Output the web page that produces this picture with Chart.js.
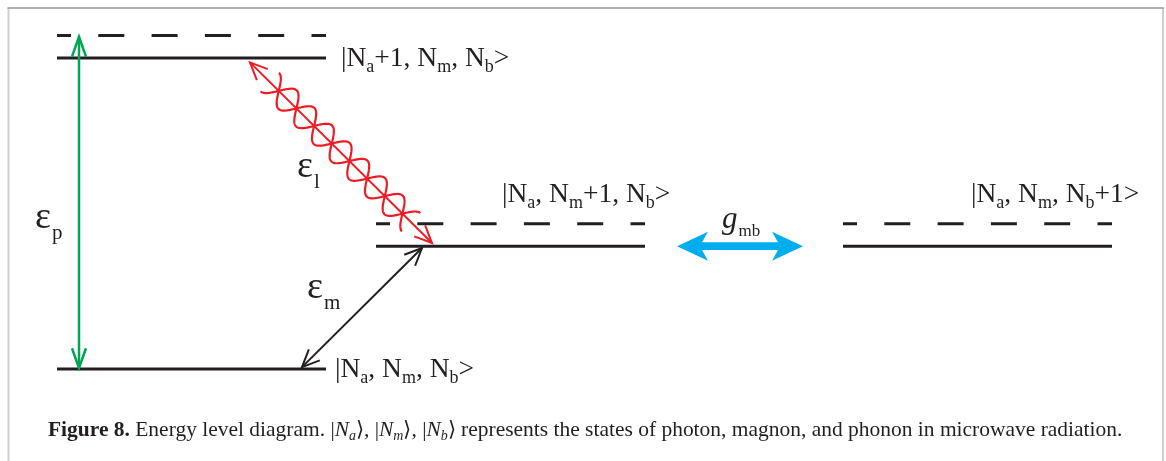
<!DOCTYPE html>
<html>
<head>
<meta charset="utf-8">
<script src="https://cdn.jsdelivr.net/npm/chart.js@4/dist/chart.umd.min.js"></script>
<style>
  html, body { margin: 0; padding: 0; background: #fff; }
  canvas { display: block; }
</style>
</head>
<body>
<canvas id="diagram" width="1166" height="461"></canvas>
<script>
// ---- Energy levels: |Na,Nm,Nb>, |Na+1,...>, |Na,Nm+1,...>, |Na,Nm,Nb+1> ----
const levelNames   = ['ground', 'photon', 'magnon', 'phonon'];
const levelEnergy  = [0, 10, 3.95, 3.95];
const levelXStart  = [57, 57, 376, 843];
const levelXEnd    = [326, 326, 645, 1112];
const levelVirtual = [false, true, true, true];   // dashed sub-level above the state
const virtualGap   = 0.72;

// ---- Transitions (x, energy) ----
const transitionNames = ['pump', 'laser', 'magnon', 'coupling'];
const transitionFrom  = [[79, 0.03], [250, 9.86], [302, 0.06], [677, 3.95]];
const transitionTo    = [[79, 10.68], [432, 4.05], [422, 3.89], [803, 3.95]];

// ---- Text ----
const stateLabels = [
  [['|N', 'r'], ['a', 's'], [', N', 'r'], ['m', 's'], [', N', 'r'], ['b', 's'], ['>', 'r']],
  [['|N', 'r'], ['a', 's'], ['+1, N', 'r'], ['m', 's'], [', N', 'r'], ['b', 's'], ['>', 'r']],
  [['|N', 'r'], ['a', 's'], [', N', 'r'], ['m', 's'], ['+1, N', 'r'], ['b', 's'], ['>', 'r']],
  [['|N', 'r'], ['a', 's'], [', N', 'r'], ['m', 's'], [', N', 'r'], ['b', 's'], ['+1>', 'r']]
];
const stateLabelAt = [[335, -0.257], [341, 9.74], [502, 5.37], [971, 5.37]];

const energySymbols  = [['\u03b5', 'p'], ['\u03b5', 'l'], ['\u03b5', 'm']];
const energySymbolAt = [[35, 4.53], [297, 6.17], [307, 2.28]];
const couplingSymbol = ['g', 'mb'];
const couplingAt     = [722, 4.52];

const captionParts = [
  ['Figure 8.', 'b'],
  [' Energy level diagram. |', 'r'], ['N', 'i'], ['a', 'is'],
  ['\u27e9, |', 'r'], ['N', 'i'], ['m', 'is'],
  ['\u27e9, |', 'r'], ['N', 'i'], ['b', 'is'],
  ['\u27e9 represents the states of photon, magnon, and phonon in microwave radiation.', 'r']
];
const captionAt = [48, -2.16];
const captionWidth = 1077;

// ---- Style ----
const INK = '#231f20', GREEN = '#00a651', RED = '#ed1c24', CYAN = '#00aeef';
const SERIF = '"Liberation Serif", "Times New Roman", serif';
const transitionColor = [GREEN, RED, INK, CYAN];

const datasets = [];
levelEnergy.forEach((e, i) => {
  datasets.push({
    label: levelNames[i],
    data: [{ x: levelXStart[i], y: e }, { x: levelXEnd[i], y: e }],
    showLine: true, pointRadius: 0, borderColor: INK, borderWidth: 3,
    borderCapStyle: 'butt'
  });
  if (levelVirtual[i]) {
    datasets.push({
      label: levelNames[i] + ' (virtual)',
      data: [{ x: levelXStart[i], y: e + virtualGap }, { x: levelXEnd[i], y: e + virtualGap }],
      showLine: true, pointRadius: 0, borderColor: INK, borderWidth: 3,
      borderCapStyle: 'butt', borderDash: [26, 27.3], borderDashOffset: 12
    });
  }
});

function openHead(ctx, tip, from, len, half) {
  const a = Math.atan2(tip.y - from.y, tip.x - from.x);
  ctx.beginPath();
  ctx.moveTo(tip.x - len * Math.cos(a - half), tip.y - len * Math.sin(a - half));
  ctx.lineTo(tip.x, tip.y);
  ctx.lineTo(tip.x - len * Math.cos(a + half), tip.y - len * Math.sin(a + half));
  ctx.stroke();
}

function rich(ctx, x, y, parts, size, subSize, subDrop) {
  let cx = x;
  for (const [t, st] of parts) {
    const sub = st.endsWith('s');
    const style = st.startsWith('i') ? 'italic ' : '';
    const weight = st === 'b' ? 'bold ' : '';
    ctx.font = style + weight + (sub ? subSize : size) + 'px ' + SERIF;
    ctx.fillText(t, cx, y + (sub ? subDrop : 0));
    cx += ctx.measureText(t).width;
  }
  return cx - x;
}

const diagramPlugin = {
  id: 'diagram',
  beforeDraw(chart) {
    const ctx = chart.ctx;
    ctx.save();
    ctx.strokeStyle = '#cfcfcf'; ctx.lineWidth = 2;
    ctx.beginPath();
    ctx.moveTo(8.5, 8); ctx.lineTo(8.5, 461);
    ctx.moveTo(1163, 8); ctx.lineTo(1163, 461);
    ctx.stroke();
    ctx.strokeStyle = '#9a9a9a'; ctx.lineWidth = 1.5;
    ctx.beginPath(); ctx.moveTo(7.5, 8); ctx.lineTo(1164, 8); ctx.stroke();
    ctx.restore();
  },
  afterDatasetsDraw(chart) {
    const ctx = chart.ctx, xs = chart.scales.x, ys = chart.scales.y;
    const P = (d) => ({ x: xs.getPixelForValue(d[0]), y: ys.getPixelForValue(d[1]) });
    ctx.save();
    ctx.lineJoin = 'miter'; ctx.lineCap = 'butt';

    transitionNames.forEach((name, i) => {
      const a = P(transitionFrom[i]), b = P(transitionTo[i]);
      const col = transitionColor[i];
      ctx.strokeStyle = col; ctx.fillStyle = col;
      if (name === 'coupling') {
        // thick double arrow with swept-back heads
        const cy = a.y, hl = 31, hh = 14.5, nb = 25, sh = 3.8;
        ctx.beginPath();
        ctx.moveTo(a.x, cy);
        ctx.lineTo(a.x + hl, cy - hh);
        ctx.lineTo(a.x + nb, cy - sh);
        ctx.lineTo(b.x - nb, cy - sh);
        ctx.lineTo(b.x - hl, cy - hh);
        ctx.lineTo(b.x, cy);
        ctx.lineTo(b.x - hl, cy + hh);
        ctx.lineTo(b.x - nb, cy + sh);
        ctx.lineTo(a.x + nb, cy + sh);
        ctx.lineTo(a.x + hl, cy + hh);
        ctx.closePath();
        ctx.fill();
        return;
      }
      ctx.lineWidth = name === 'pump' ? 2.5 : 2;
      ctx.beginPath(); ctx.moveTo(a.x, a.y); ctx.lineTo(b.x, b.y); ctx.stroke();
      const hl = name === 'pump' ? 21 : 19;
      const half = name === 'pump' ? 0.34 : 0.42;
      openHead(ctx, a, b, hl, half);
      openHead(ctx, b, a, hl, half);

      if (name === 'laser') {
        // photon wave: two counter-phase sinusoids braided around the arrow
        const dx = b.x - a.x, dy = b.y - a.y, L = Math.hypot(dx, dy);
        const ux = dx / L, uy = dy / L, nx = -uy, ny = ux;
        const t0 = 28, t1 = 227.4, node = 40.5, hp = 24.9, amp = 13;
        ctx.lineWidth = 2.2;
        ctx.lineJoin = 'round';
        [1, -1].forEach(sgn => {
          ctx.beginPath();
          for (let t = t0; t <= t1 + 0.01; t += 0.5) {
            const o = sgn * amp * Math.sin(Math.PI * (t - node) / hp);
            const x = a.x + ux * t + nx * o, y = a.y + uy * t + ny * o;
            if (t === t0) ctx.moveTo(x, y); else ctx.lineTo(x, y);
          }
          ctx.stroke();
        });
        ctx.lineJoin = 'miter';
      }
    });

    // state labels
    ctx.fillStyle = INK;
    ctx.textBaseline = 'alphabetic';
    stateLabels.forEach((parts, i) => {
      const p = P(stateLabelAt[i]);
      rich(ctx, p.x, p.y, parts, 27.5, 18, 6);
    });

    // energy quanta
    energySymbols.forEach((s, i) => {
      const p = P(energySymbolAt[i]);
      ctx.font = '38px ' + SERIF;
      ctx.fillText(s[0], p.x, p.y);
      const w = ctx.measureText(s[0]).width;
      ctx.font = '21px ' + SERIF;
      ctx.fillText(s[1], p.x + w + 1, p.y + 11);
    });

    // magnon-phonon coupling
    {
      const p = P(couplingAt);
      ctx.font = 'italic 31px ' + SERIF;
      ctx.fillText(couplingSymbol[0], p.x, p.y);
      const w = ctx.measureText(couplingSymbol[0]).width;
      ctx.font = '17px ' + SERIF;
      ctx.fillText(couplingSymbol[1], p.x + w + 1, p.y + 8);
    }

    // caption, sized to its column width
    {
      const p = P(captionAt);
      ctx.save();
      ctx.globalAlpha = 0;
      const w20 = rich(ctx, 0, -100, captionParts, 20, 13, 4);
      ctx.restore();
      const size = 20 * captionWidth / w20;
      rich(ctx, p.x, p.y, captionParts, size, size * 0.65, size * 0.2);
    }
    ctx.restore();
  }
};

new Chart(document.getElementById('diagram'), {
  type: 'scatter',
  data: { datasets },
  options: {
    responsive: false,
    animation: false,
    events: [],
    layout: { padding: 0 },
    plugins: { legend: { display: false }, tooltip: { enabled: false } },
    scales: {
      x: { type: 'linear', display: false, min: 0, max: 1166 },
      y: { type: 'linear', display: false, min: -2.958, max: 11.865 }
    }
  },
  plugins: [diagramPlugin]
});
</script>
</body>
</html>
